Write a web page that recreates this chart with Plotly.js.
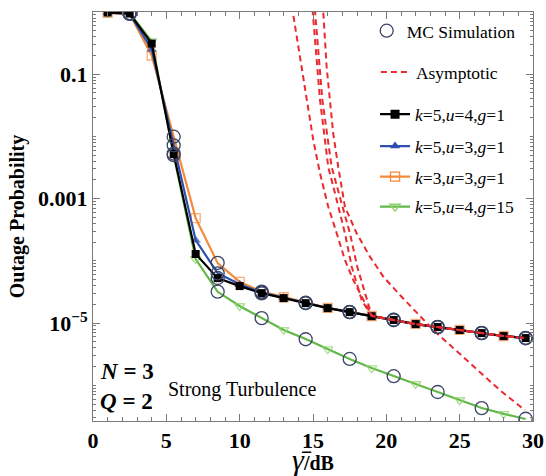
<!DOCTYPE html>
<html>
<head>
<meta charset="utf-8">
<script src="https://cdn.plot.ly/plotly-3.0.1.min.js"></script>
<style>html,body{margin:0;padding:0;background:#fff;}#chart{width:546px;height:476px;}</style>
</head>
<body>
<div id="chart"></div>
<script>
// ---- data ----
const snr = [1, 2.5, 4, 5.5, 7, 8.5, 10, 11.5, 13, 14.5, 16, 17.5, 19, 20.5, 22, 23.5, 25, 26.5, 28, 29.5];
const k5u4g1 = [0.98, 0.944, 0.311, 0.00519, 1.29e-4, 5.28e-5, 3.93e-5, 3.03e-5, 2.52e-5, 2.09e-5, 1.74e-5, 1.50e-5, 1.29e-5, 1.12e-5, 9.64e-6, 8.63e-6, 7.73e-6, 6.90e-6, 6.18e-6, 5.74e-6];
const k5u3g1 = [0.98, 0.94, 0.25, 0.0071, 2.15e-4, 6.35e-5, 4.2e-5, 3.1e-5, 2.55e-5, 2.1e-5, 1.75e-5, 1.5e-5, 1.29e-5, 1.12e-5, 9.6e-6, 8.6e-6, 7.7e-6, 6.9e-6, 6.2e-6, 5.75e-6];
const k3u3g1 = [0.97, 0.93, 0.2, 0.0098, 4.86e-4, 9.2e-5, 4.6e-5, 3.2e-5, 2.6e-5, 2.12e-5, 1.76e-5, 1.51e-5, 1.30e-5, 1.13e-5, 9.7e-6, 8.7e-6, 7.8e-6, 6.95e-6, 6.2e-6, 5.78e-6];
const k5u4g15 = [0.98, 0.96, 0.34, 0.005, 1.07e-4, 3.18e-5, 1.88e-5, 1.2e-5, 7.76e-6, 5.53e-6, 3.82e-6, 2.64e-6, 1.89e-6, 1.41e-6, 1.05e-6, 7.8e-7, 5.8e-7, 4.31e-7, 3.47e-7, 2.87e-7];

const simSnr = [2.5, 5.5, 8.5, 11.5, 14.5, 17.5, 20.5, 23.5, 26.5, 29.5];
const simK5u4g1 = [0.95, 0.0053, 5.3e-5, 3.0e-5, 2.1e-5, 1.5e-5, 1.12e-5, 8.6e-6, 6.9e-6, 5.7e-6];
const simK5u3g1 = [0.94, 0.0072, 6.3e-5, 3.1e-5, 2.1e-5, 1.5e-5, 1.12e-5, 8.6e-6, 6.9e-6, 5.75e-6];
const simK3u3g1 = [0.93, 0.0099, 9.3e-5, 3.2e-5, 2.12e-5, 1.51e-5, 1.13e-5, 8.7e-6, 6.95e-6, 5.8e-6];
const simK5u4g15 = [0.96, 0.0050, 3.2e-5, 1.2e-5, 5.5e-6, 2.65e-6, 1.4e-6, 7.8e-7, 4.3e-7, 2.9e-7];

const asymAx = [13.45, 13.62, 14.0, 14.34, 14.68, 15.02, 15.48, 16.04, 16.62, 17.18, 17.75, 18.43, 18.89, 19, 20.5, 22, 23.5, 25, 26.5, 28, 29.5];
const asymAy = [1.8, 1.0, 0.311, 0.0906, 0.0299, 0.00871, 0.00254, 7.38e-4, 2.76e-4, 1.03e-4, 4.91e-5, 2.34e-5, 1.43e-5, 1.3e-5, 1.12e-5, 9.64e-6, 8.63e-6, 7.73e-6, 6.90e-6, 6.18e-6, 5.74e-6];
const asymBx = [14.9, 14.98, 15.48, 16.04, 16.62, 17.18, 17.64, 18.32, 18.89, 19, 20.5, 22, 23.5, 25, 26.5, 28, 29.5];
const asymBy = [1.6, 1.0, 0.0382, 0.00324, 9.46e-4, 2.76e-4, 8.04e-5, 2.34e-5, 1.43e-5, 1.3e-5, 1.12e-5, 9.64e-6, 8.63e-6, 7.73e-6, 6.90e-6, 6.18e-6, 5.74e-6];
const asymCx = [15.06, 15.14, 15.64, 16.27, 16.89, 17.52, 18.02, 18.66, 19.0, 20.5, 22, 23.5, 25, 26.5, 28, 29.5];
const asymCy = [1.6, 1.0, 0.0382, 0.00324, 9.46e-4, 2.76e-4, 8.04e-5, 2.34e-5, 1.32e-5, 1.12e-5, 9.64e-6, 8.63e-6, 7.73e-6, 6.90e-6, 6.18e-6, 5.74e-6];
const asymDx = [15.6, 15.70, 15.93, 16.16, 16.38, 16.72, 17.18, 17.98, 18.89, 19.8, 20.93, 23.2, 25.48, 27.75, 29.45];
const asymDy = [1.41, 1.0, 0.131, 0.0382, 0.0111, 0.00324, 7.38e-4, 2.76e-4, 1.16e-4, 5.55e-5, 2.82e-5, 7.76e-6, 2.57e-6, 8.32e-7, 3.98e-7];

const seriesNames = ['<i>k</i>=5,<i>u</i>=4,<i>g</i>=1', '<i>k</i>=5,<i>u</i>=3,<i>g</i>=1', '<i>k</i>=3,<i>u</i>=3,<i>g</i>=1', '<i>k</i>=5,<i>u</i>=4,<i>g</i>=15'];
const tickVals = [0.1, 0.001, 1e-5];
const tickText = ['0.1', '0.001', '10<sup>−5</sup>'];

// ---- styling ----
const serif = 'Liberation Serif, Times New Roman, serif';
const cBlack = '#000000', cBlue = '#2f4fae', cOrange = '#f48a3a', cGreen = '#62b846', cGreenMk = '#8fd36c', cRed = '#ea2a2f', cSim = '#3b4566';
const every3 = snr.map((_, i) => (i % 2 === 0 ? 9 : 0));

const traces = [];
function curve(y, name, color, symbol, mkColor, sizes, legendId, mkLineW) {
  const mk = {symbol: symbol, color: mkColor, line: {color: mkColor, width: mkLineW}};
  traces.push({
    x: snr, y: y, name: name, mode: 'lines+markers', showlegend: false,
    line: {color: color, width: 2.2},
    marker: Object.assign({}, mk, {size: sizes}),
    cliponaxis: true
  });
  // legend entry only (no data drawn)
  traces.push({
    x: [null], y: [null], name: name, mode: 'lines+markers', legend: legendId,
    line: {color: color, width: 2.2},
    marker: Object.assign({}, mk, {size: 9})
  });
}
curve(k5u4g15, seriesNames[3], cGreen, 'triangle-down-open', cGreenMk, every3, 'legend6', 1.4);
curve(k3u3g1, seriesNames[2], cOrange, 'square-open', cOrange, every3, 'legend5', 1.3);
curve(k5u3g1, seriesNames[1], cBlue, 'triangle-up', cBlue, every3, 'legend4', 0);
curve(k5u4g1, seriesNames[0], cBlack, 'square', cBlack, 8, 'legend3', 0);

const asym = [[asymAx, asymAy], [asymBx, asymBy], [asymCx, asymCy], [asymDx, asymDy]];
asym.forEach((a, i) => traces.push({
  x: a[0], y: a[1], name: 'Asymptotic', mode: 'lines', legend: 'legend2', showlegend: i === 0,
  line: {color: cRed, width: 2, dash: '6px,4px'}
}));

[simK5u4g1, simK5u3g1, simK3u3g1, simK5u4g15].forEach((s, i) => traces.push({
  x: simSnr, y: s, name: 'MC Simulation', mode: 'markers', legend: 'legend', showlegend: i === 0,
  marker: {symbol: 'circle-open', size: 13, color: cSim, line: {color: cSim, width: 1.3}}
}));

const legBase = {xanchor: 'left', yanchor: 'middle', bgcolor: 'rgba(0,0,0,0)',
  font: {family: serif, size: 17.5, color: '#000'}, borderwidth: 0, tracegroupgap: 0};
const legPos = [0.954, 0.853, 0.750, 0.672, 0.597, 0.524];
const legX = [0.622, 0.643, 0.641, 0.641, 0.641, 0.641];

const axisCommon = {
  showline: true, linecolor: '#7a7a7a', linewidth: 1, mirror: 'allticks',
  ticks: 'inside', tickcolor: '#7a7a7a', showgrid: false, zeroline: false,
  tickfont: {family: serif, size: 22, color: '#000', weight: 'bold'}
};

const layout = {
  width: 546, height: 476,
  margin: {l: 93, r: 13, t: 12, b: 55},
  paper_bgcolor: '#fff', plot_bgcolor: '#fff',
  font: {family: serif, color: '#000'},
  xaxis: Object.assign({}, axisCommon, {
    range: [0, 30], tickvals: [0, 5, 10, 15, 20, 25, 30], ticklen: 7,
    minor: {dtick: 1, ticks: 'inside', ticklen: 4, tickcolor: '#7a7a7a', showgrid: false},
    title: {text: '<span style="font-size:30px"><i>γ̄</i></span><b>/dB</b>', font: {family: serif, size: 20, color: '#000'}, standoff: 2}
  }),
  yaxis: Object.assign({}, axisCommon, {
    type: 'log', range: [-6.574, 0], tickvals: tickVals, ticktext: tickText, ticklen: 7,
    minor: {dtick: 'D1', ticks: 'inside', ticklen: 3, tickcolor: '#7a7a7a', showgrid: false},
    title: {text: '<b>Outage Probability</b>', font: {family: serif, size: 20, color: '#000'}, standoff: 8}
  }),
  showlegend: true,
  annotations: [
    {xref: 'paper', yref: 'paper', x: 0.011, y: 0.120, xanchor: 'left', yanchor: 'middle', showarrow: false,
     text: '<b><i>N</i> = 3</b>', font: {family: serif, size: 23, color: '#000'}},
    {xref: 'paper', yref: 'paper', x: 0.011, y: 0.0465, xanchor: 'left', yanchor: 'middle', showarrow: false,
     text: '<b><i>Q</i> = 2</b>', font: {family: serif, size: 23, color: '#000'}},
    {xref: 'paper', yref: 'paper', x: 0.166, y: 0.078, xanchor: 'left', yanchor: 'middle', showarrow: false,
     text: 'Strong Turbulence', font: {family: serif, size: 20, color: '#000'}}
  ]
};
['legend', 'legend2', 'legend3', 'legend4', 'legend5', 'legend6'].forEach((k, i) => {
  layout[k] = Object.assign({}, legBase, {y: legPos[i], x: legX[i]});
});

Plotly.newPlot('chart', traces, layout, {displayModeBar: false, staticPlot: true});
</script>
</body>
</html>
